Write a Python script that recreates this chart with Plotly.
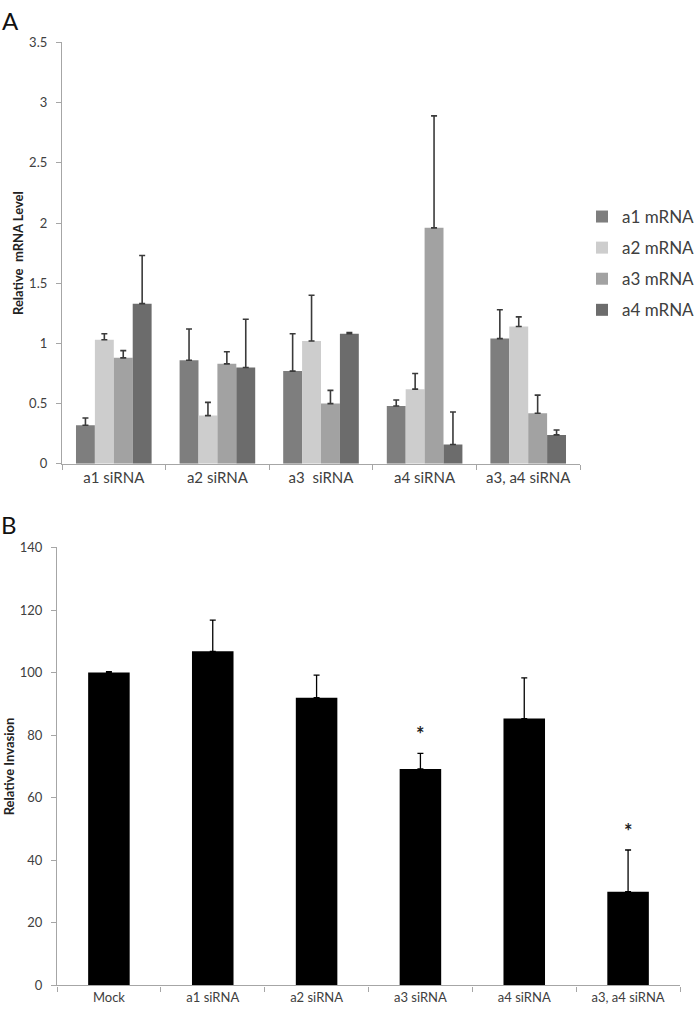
import plotly.graph_objects as go

# ---------------- data ----------------
categories_a = ["a1 siRNA", "a2 siRNA", "a3  siRNA", "a4 siRNA", "a3, a4 siRNA"]
series_names = ["a1 mRNA", "a2 mRNA", "a3 mRNA", "a4 mRNA"]
a1_mrna = [0.32, 0.86, 0.77, 0.48, 1.04]
a2_mrna = [1.03, 0.40, 1.02, 0.62, 1.14]
a3_mrna = [0.88, 0.83, 0.50, 1.96, 0.42]
a4_mrna = [1.33, 0.80, 1.08, 0.16, 0.24]
a1_err = [0.06, 0.26, 0.31, 0.05, 0.24]
a2_err = [0.05, 0.11, 0.38, 0.13, 0.08]
a3_err = [0.06, 0.10, 0.11, 0.93, 0.15]
a4_err = [0.40, 0.40, 0.01, 0.27, 0.04]
ticks_a = [0, 0.5, 1, 1.5, 2, 2.5, 3, 3.5]
ticklabels_a = ["0", "0.5", "1", "1.5", "2", "2.5", "3", "3.5"]

categories_b = ["Mock", "a1 siRNA", "a2 siRNA", "a3 siRNA", "a4 siRNA", "a3, a4 siRNA"]
invasion = [100, 106.8, 92.0, 69.2, 85.3, 30.0]
invasion_err = [0.3, 10.0, 7.2, 5.0, 13.0, 13.3]
significant = [False, False, False, True, False, True]
ticks_b = [0, 20, 40, 60, 80, 100, 120, 140]

# ---------------- style ----------------
W, H = 700, 1025
FONT = "Lato, 'Open Sans', sans-serif"
colors_a = ["#7e7e7e", "#cdcdcd", "#a2a2a2", "#6c6c6c"]
AX = "#a6a6a6"
TXT = "#404040"

def px_x(p):
    return p / W

def px_y(p):
    return 1 - p / H

fig = go.Figure()

values_a = [a1_mrna, a2_mrna, a3_mrna, a4_mrna]
errs_a = [a1_err, a2_err, a3_err, a4_err]
for name, vals, errs, col in zip(series_names, values_a, errs_a, colors_a):
    fig.add_trace(go.Bar(
        x=categories_a, y=vals, name=name, marker=dict(color=col, line=dict(width=0)),
        error_y=dict(type="data", array=errs, arrayminus=[0] * len(errs), symmetric=False,
                     color="#3a3a3a", thickness=1.6, width=3),
        xaxis="x", yaxis="y", legendgroup=name,
    ))

fig.add_trace(go.Bar(
    x=categories_b, y=invasion, name="Relative Invasion", showlegend=False,
    width=0.4,
    marker=dict(color="#000000", line=dict(width=0)),
    error_y=dict(type="data", array=invasion_err, arrayminus=[0] * len(invasion_err),
                 symmetric=False, color="#000000", thickness=1.3, width=3),
    xaxis="x2", yaxis="y2",
))

annotations = []
for c, v, e, s in zip(categories_b, invasion, invasion_err, significant):
    if s:
        annotations.append(dict(x=c, y=v + e, xref="x2", yref="y2", text="<b>*</b>",
                                showarrow=False, yanchor="bottom", yshift=5,
                                font=dict(family=FONT, size=20, color="#222")))
annotations.append(dict(x=px_x(10), y=px_y(13), xref="paper", yref="paper", text="A",
                        showarrow=False, xanchor="center", yanchor="middle",
                        font=dict(family=FONT, size=24, color="#111")))
annotations.append(dict(x=px_x(9), y=px_y(525), xref="paper", yref="paper", text="B",
                        showarrow=False, xanchor="center", yanchor="middle",
                        font=dict(family=FONT, size=24, color="#111")))

common_x = dict(showline=True, linecolor=AX, linewidth=1.3, ticks="outside", tickson="boundaries",
                ticklen=5, tickcolor=AX, showgrid=False, zeroline=False,
                tickfont=dict(family=FONT, color=TXT))
common_y = dict(showline=True, linecolor=AX, linewidth=1.3, ticks="outside", ticklen=5,
                tickcolor=AX, showgrid=False, zeroline=False,
                tickfont=dict(family=FONT, color=TXT, size=13))

fig.update_layout(
    width=W, height=H, margin=dict(l=0, r=0, t=0, b=0),
    paper_bgcolor="white", plot_bgcolor="white",
    barmode="group", bargap=0.27, bargroupgap=0,
    showlegend=True,
    legend=dict(x=px_x(582), y=px_y(194), xanchor="left", yanchor="top",
                font=dict(family=FONT, size=17, color=TXT), tracegroupgap=6,
                bgcolor="rgba(0,0,0,0)"),
    xaxis=dict(domain=[px_x(62), px_x(580)], anchor="y", **common_x,
               tickfont_size=15),
    yaxis=dict(domain=[px_y(463), px_y(35)], anchor="x", range=[0, 3.5],
               tickvals=ticks_a, ticktext=ticklabels_a, ticklabelstandoff=6,
               title=dict(text="<b>Relative  mRNA Level</b>", standoff=2,
                          font=dict(family=FONT, size=13, color="#222")),
               **common_y),
    xaxis2=dict(domain=[px_x(57), px_x(680)], anchor="y2", **common_x,
                tickfont_size=13),
    yaxis2=dict(domain=[px_y(993), px_y(548)], anchor="x2", range=[0, 140],
                tickvals=ticks_b, ticklabelstandoff=6,
                title=dict(text="<b>Relative Invasion</b>", standoff=2,
                           font=dict(family=FONT, size=13, color="#222")),
                **common_y),
    annotations=annotations,
)

fig.write_html("out.html", config={"displayModeBar": False},
               post_script="document.body.style.margin='0px';")
